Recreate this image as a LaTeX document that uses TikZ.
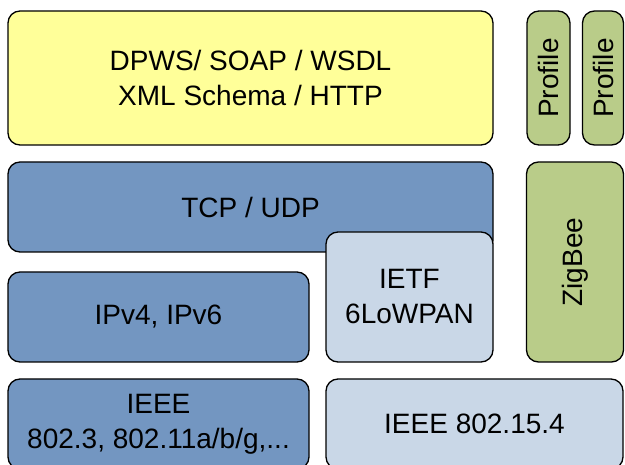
\documentclass[tikz,border=0pt]{standalone}
\usepackage{fontspec}
\setmainfont{Liberation Sans}
\usetikzlibrary{positioning}

\definecolor{webyellow}{HTML}{FFFF99}
\definecolor{netblue}{HTML}{7396C1}
\definecolor{lowblue}{HTML}{C9D7E7}
\definecolor{zbgreen}{HTML}{B9CC89}

\begin{document}
\begin{tikzpicture}[%
x=1pt, y=-1pt,
font=\fontsize{28}{35}\selectfont,
layer/.style={rectangle, draw=black, line width=1.3pt, rounded corners=12pt, align=center, inner sep=0pt},
sideways/.style={layer, rotate=90}
]
\clip (0,0) rectangle (625,465);
\node[layer, fill=webyellow, minimum width=485pt, minimum height=134pt] (dpws) at (250.5,78) {DPWS/ SOAP / WSDL\\XML Schema / HTTP};
\node[sideways, fill=zbgreen, minimum width=134pt, minimum height=43pt] (prof1) at (548.5,78) {Profile};
\node[sideways, fill=zbgreen, minimum width=134pt, minimum height=41pt] (prof2) at (603,78) {Profile};
\node[layer, fill=netblue, minimum width=485pt, minimum height=90pt] (tcp) at (250.5,207) {TCP / UDP};
\node[layer, fill=lowblue, minimum width=167pt, minimum height=130pt] (ietf) at (409.5,297) {IETF\\6LoWPAN};
\node[sideways, fill=zbgreen, minimum width=200pt, minimum height=97pt] (zigbee) at (575,262) {ZigBee};
\node[layer, fill=netblue, minimum width=301pt, minimum height=90pt] (ip) at (158.5,317) {IPv4, IPv6};
\node[layer, fill=netblue, minimum width=301pt, minimum height=90pt] (ieee) at (158.5,424) {IEEE\\802.3, 802.11a/b/g,...};
\node[layer, fill=lowblue, minimum width=297pt, minimum height=90pt] (lowpan) at (474.5,424) {IEEE 802.15.4};
\end{tikzpicture}
\end{document}
